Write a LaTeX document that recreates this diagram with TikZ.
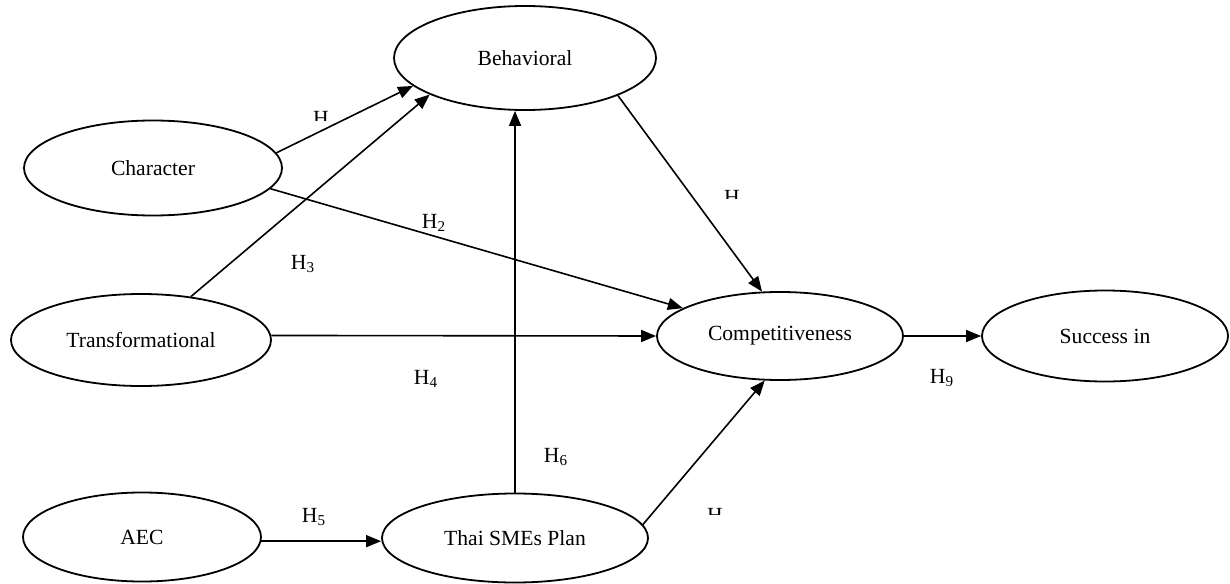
\documentclass[tikz,border=0pt]{standalone}
\usepackage{fontspec}
\setmainfont{Liberation Serif}
\usetikzlibrary{shapes.geometric,arrows.meta}
\begin{document}
\begin{tikzpicture}[x=0.5pt,y=-0.5pt,
  var/.style={draw,ellipse,line width=0.9pt,inner sep=0pt,font=\fontsize{10.8}{13}\selectfont},
  arr/.style={line width=0.8pt,-{Triangle[length=7.5pt,width=6pt]}},
  hl/.style={font=\fontsize{10.8}{13}\selectfont,inner sep=0pt}]
\useasboundingbox (0,0) rectangle (1230,583);
\fill[white] (0,0) rectangle (1230,583);
% variables
\node[var,minimum width=131pt,minimum height=52pt] (beh) at (525,58) {Behavioral};
\node[var,minimum width=129pt,minimum height=47.5pt] (char) at (153,168) {Character};
\node[var,minimum width=130pt,minimum height=46pt] (trans) at (141,340) {Transformational};
\node[var,minimum width=123pt,minimum height=44pt] (comp) at (780,336) {Competitiveness};
\node[var,minimum width=123pt,minimum height=45.5pt] (succ) at (1105,336) {Success in};
\node[var,minimum width=119pt,minimum height=44.5pt] (aec) at (142,537) {AEC};
\node[var,minimum width=133pt,minimum height=44.5pt] (thai) at (515,538) {Thai SMEs Plan};
% connectors
\draw[arr] (char.7.6) -- (beh.194.9);
\draw[arr] (trans.41) -- (beh.201);
\draw[arr] (char.-10.6) -- (comp.164.7);
\draw[arr] (trans.2) -- (comp.west);
\draw[arr] (beh.-22) -- (comp.112.4);
\draw[arr] (thai.north) -- (thai.north |- beh.south);
\draw[arr] (thai.6.2) -- (comp.251.2);
\draw[arr] (aec.-2.5) -- (aec.-2.5 -| thai.west);
\draw[arr] (comp.east) -- (succ.west);
% labels
\begin{scope}
  \clip (300,100) rectangle (340,120);
  \node[hl] (h1) at (321,118) {H};
\end{scope}
\begin{scope}
  \clip (715,180) rectangle (750,198);
  \node[hl] (h7) at (732,197) {H};
\end{scope}
\begin{scope}
  \clip (698,498) rectangle (732,514);
  \node[hl] (h8) at (715,515) {H};
\end{scope}
\node[hl] (h2) at (434,223) {H\textsubscript{2}};
\node[hl] (h3) at (303,264) {H\textsubscript{3}};
\node[hl] (h4) at (426,379) {H\textsubscript{4}};
\node[hl] (h5) at (314,517) {H\textsubscript{5}};
\node[hl] (h6) at (556,457) {H\textsubscript{6}};
\node[hl] (h9) at (942,378) {H\textsubscript{9}};
\end{tikzpicture}
\end{document}
